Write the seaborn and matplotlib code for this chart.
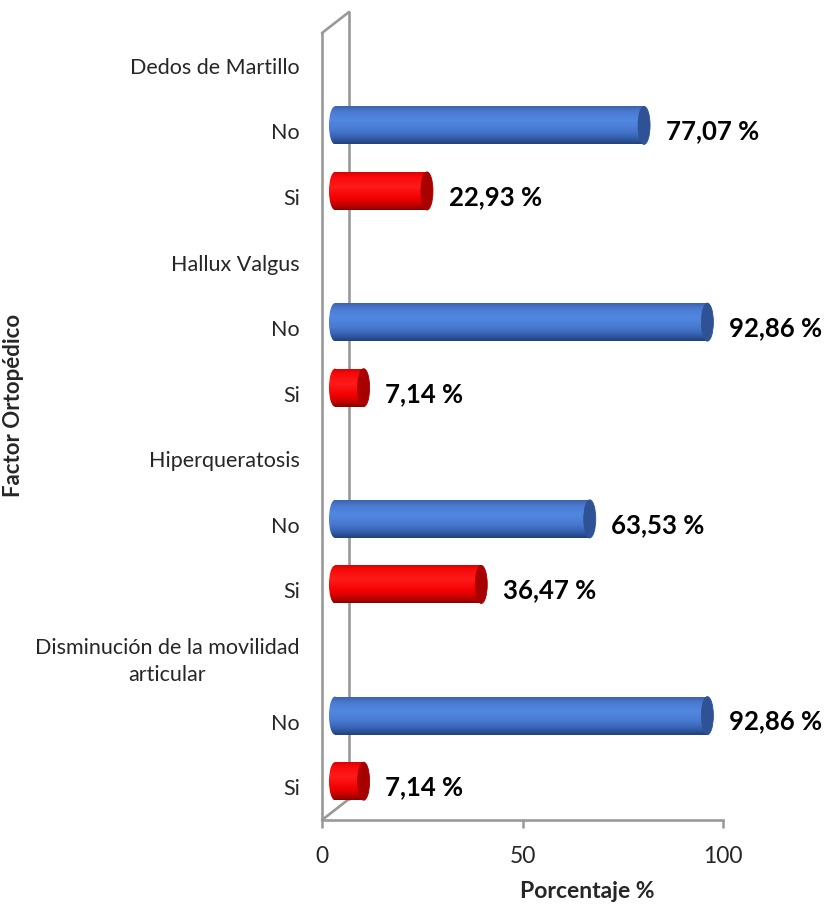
import numpy as np
import pandas as pd
import matplotlib
matplotlib.use("Agg")
import matplotlib.pyplot as plt
from matplotlib.patches import Ellipse
from matplotlib.colors import LinearSegmentedColormap
from matplotlib.transforms import ScaledTranslation
from matplotlib.lines import Line2D
import seaborn as sns

# ---- data ----
factors = ["Dedos de Martillo", "Hallux Valgus", "Hiperqueratosis",
           "Disminución de la movilidad\narticular"]
no_pct = [77.07, 92.86, 63.53, 92.86]
si_pct = [22.93, 7.14, 36.47, 7.14]
answers = ["No", "Si"]
x_ticks = [0, 50, 100]

sns.set_theme(style="white")
plt.rcParams["font.family"] = ["Lato", "DejaVu Sans"]

# one row per factor header, followed by its "No" and "Si" rows
row_ids, row_labels, recs = [], [], []
for i, f in enumerate(factors):
    row_ids.append(f"h{i}"); row_labels.append(f)
    for ans, val in zip(answers, (no_pct[i], si_pct[i])):
        rid = f"{ans}{i}"
        row_ids.append(rid); row_labels.append(ans)
        recs.append({"row": rid, "pct": val, "answer": ans})
df = pd.DataFrame(recs)

DPI = 100
fig = plt.figure(figsize=(8.39, 9.09), dpi=DPI)
W, H = 839, 909
left, right, top, bottom = 322, 723, 33, 820
rect = [left / W, (H - bottom) / H, (right - left) / W, (bottom - top) / H]
ax = fig.add_axes(rect)

xlim = (0, 100)
ylim = (len(row_ids) - 0.5, -0.5)

# bars live in a companion axes pushed back in depth; it starts a little
# left of zero so the rounded back end of each cylinder is not cut off
dx, dy = 13, 6
pad_u = 5
px_per_u = (right - left) / (xlim[1] - xlim[0])
ax_b = fig.add_axes([(left + dx - pad_u * px_per_u) / W, rect[1] + dy / H,
                     (right - left + pad_u * px_per_u) / W, rect[3]])
ax_b.patch.set_alpha(0)

palette = {"No": "#4f81d9", "Si": "#ff0000"}
sns.barplot(data=df, x="pct", y="row", hue="answer", order=row_ids,
            palette=palette, orient="h", dodge=False, width=0.58,
            legend=False, ax=ax_b, saturation=1)

grad = {
    "No": LinearSegmentedColormap.from_list("b", [
        (0.0, "#3a5ea8"), (0.15, "#4a78cf"), (0.38, "#5288e2"),
        (0.62, "#4a7bd3"), (0.82, "#3763b4"), (1.0, "#21407a")]),
    "Si": LinearSegmentedColormap.from_list("r", [
        (0.0, "#d40000"), (0.15, "#fa0a0a"), (0.4, "#ff1a1a"),
        (0.7, "#f20000"), (0.87, "#c40000"), (1.0, "#860000")]),
}
cap_col = {"No": "#2e5295", "Si": "#a80000"}
g = np.linspace(0, 1, 128).reshape(-1, 1)
cap_w = 3.0

for p in list(ax_b.patches):
    w = p.get_width()
    if not np.isfinite(w) or w <= 0:
        continue
    y0, h = p.get_y(), p.get_height()
    yc = y0 + h / 2
    r, gg, b, _ = p.get_facecolor()
    key = "No" if b > r else "Si"
    p.set_facecolor("none"); p.set_edgecolor("none")
    # rounded back end
    back = Ellipse((0, yc), cap_w, h, facecolor="none", edgecolor="none")
    ax_b.add_patch(back)
    for clip in (p, back):
        im = ax_b.imshow(g, cmap=grad[key], aspect="auto", origin="upper",
                         extent=(-cap_w, w, y0 + h, y0), interpolation="bicubic",
                         zorder=2)
        im.set_clip_path(clip)
    # front face of the cylinder
    ax_b.add_patch(Ellipse((w, yc), cap_w, h, facecolor=cap_col[key],
                           edgecolor=cap_col[key], linewidth=0.6, zorder=3,
                           clip_on=False))

ax_b.set_xlim(xlim[0] - pad_u, xlim[1]); ax_b.set_ylim(ylim)
ax_b.axis("off")

# main axes: labels, ticks, wall
ax.set_xlim(xlim); ax.set_ylim(ylim)
ax.set_yticks(range(len(row_ids)))
ax.set_yticklabels(row_labels, fontsize=15.5)
for t in ax.get_yticklabels():
    t.set_multialignment("center")
    t.set_linespacing(1.45)
ax.set_xticks(x_ticks)
ax.set_xticklabels([str(v) for v in x_ticks], fontsize=16.5)
ax.tick_params(axis="y", length=0, pad=16)
ax.tick_params(axis="x", length=6, width=1.8, color="#999999", pad=13,
               direction="out", bottom=True)
for s in ("top", "right"):
    ax.spines[s].set_visible(False)
for s in ("left", "bottom"):
    ax.spines[s].set_color("#999999")
    ax.spines[s].set_linewidth(1.9)

# back edge of the side wall
off = ax.transAxes + ScaledTranslation(27 / DPI, 21 / DPI, fig.dpi_scale_trans)
wall_kw = dict(color="#999999", linewidth=1.9, clip_on=False, zorder=0)
ax.add_line(Line2D([0, 0], [0, 1], transform=off, **wall_kw))
top_pt = ax.transAxes.transform((0, 1))
bot_pt = ax.transAxes.transform((0, 0))
ax.add_line(Line2D([top_pt[0], top_pt[0] + 27], [top_pt[1], top_pt[1] + 21],
                   transform=None, **wall_kw))
ax.add_line(Line2D([bot_pt[0], bot_pt[0] + 27], [bot_pt[1], bot_pt[1] + 21],
                   transform=None, **wall_kw))

# value labels
for i in range(len(factors)):
    for j, val in enumerate((no_pct[i], si_pct[i])):
        ypos = row_ids.index(f"{answers[j]}{i}")
        ax.annotate(f"{val:.2f} %".replace(".", ","), (val, ypos),
                    xytext=(25, 0), textcoords="offset points",
                    ha="left", va="center", fontsize=18.5, fontweight="bold",
                    color="black", annotation_clip=False)

ax.set_xlabel("Porcentaje %", fontsize=16.5, fontweight="bold")
ax.xaxis.set_label_coords(0.661, -0.078)
ax.set_ylabel("Factor Ortopédico", fontsize=16, fontweight="bold")
ax.yaxis.set_label_coords(-0.743, 0.527)

fig.savefig("out.png", dpi=DPI)
